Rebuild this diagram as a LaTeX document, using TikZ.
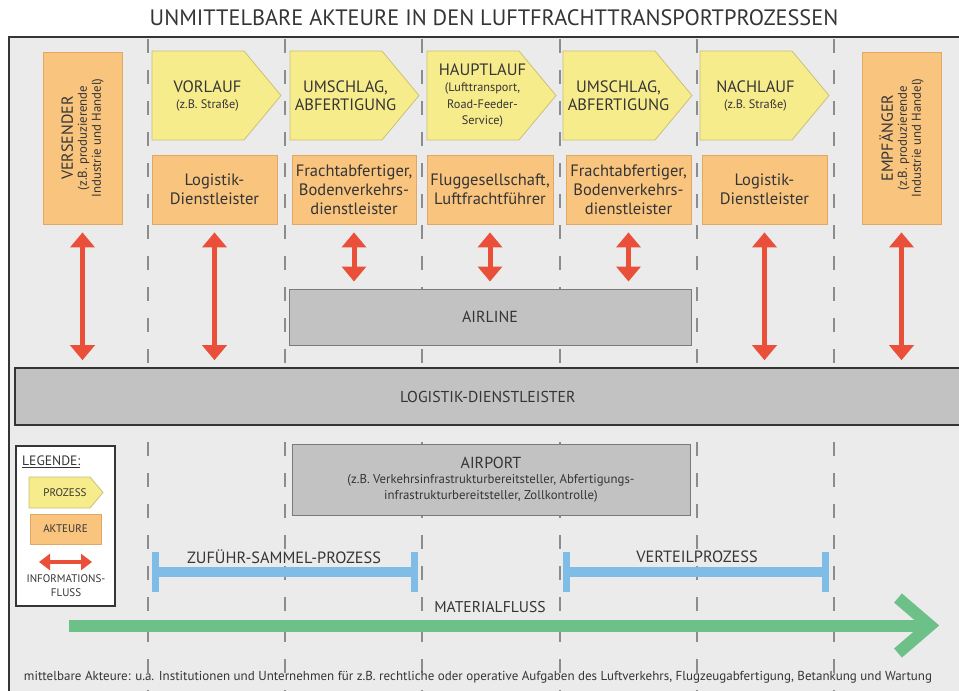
\documentclass[tikz,border=0pt]{standalone}
\usepackage{fontspec}
\setmainfont{PT Sans}
\usetikzlibrary{arrows.meta}
\definecolor{bgc}{HTML}{EBEBEB}
\definecolor{procyellow}{HTML}{F7EC8C}
\definecolor{procborder}{HTML}{C9C07A}
\definecolor{actorange}{HTML}{F8C47E}
\definecolor{actborder}{HTML}{E0A863}
\definecolor{graybox}{HTML}{C2C2C2}
\definecolor{grayborder}{HTML}{7A7A7A}
\definecolor{txt}{HTML}{353535}
\definecolor{infored}{HTML}{EA5039}
\definecolor{barblue}{HTML}{80BDE6}
\definecolor{flowgreen}{HTML}{6CC088}
\definecolor{dashc}{HTML}{8C8C8C}
\newcommand\fsb[2]{\fontsize{#1}{#2}\selectfont}
\newcommand\procshape[5]{%
  \draw[procst] (#2,51) -- ({#3-37},51) -- (#3,95.5) -- ({#3-37},140) -- (#2,140) -- cycle;
  \node[proctext, font=#4] (#1) at ({(#2+#3-18)/2},95.5) {#5};}
\tikzset{
  procst/.style={fill=procyellow, draw=procborder, line width=0.8pt},
  proctext/.style={align=center, text=txt, inner sep=0pt},
  actor/.style={fill=actorange, draw=actborder, line width=0.8pt, inner sep=0pt, align=center, text=txt, font=\fsb{16.5}{19}},
  grayb/.style={fill=graybox, draw=grayborder, line width=1pt, inner sep=0pt, align=center, text=txt},
  info/.style={draw=infored, line width=5pt, {Triangle[width=24pt,length=15pt]}-{Triangle[width=24pt,length=15pt]}},
  sep/.style={draw=dashc, line width=1.1pt, dash pattern=on 14pt off 17pt},
  bluebar/.style={draw=barblue, line width=10pt},
  bluecap/.style={draw=barblue, line width=7pt},
  rottext/.style={rotate=90, align=center, text=txt, inner sep=0pt, font=\fsb{12.8}{14}},
}
\begin{document}
\begin{tikzpicture}[x=1pt,y=-1pt]
\useasboundingbox (0,0) rectangle (959,691);
% background
\fill[white] (0,0) rectangle (959,691);
\fill[bgc] (9,37) rectangle (959,691);
\draw[txt, line width=2pt] (9,691) -- (9,37) -- (959,37);
% title
\node[text=txt, font=\fsb{22.3}{26}, inner sep=0pt] (title) at (494,18) {UNMITTELBARE AKTEURE IN DEN LUFTFRACHTTRANSPORTPROZESSEN};
% separators
\foreach \x in {148,285,422,560,697,834} \draw[sep] (\x,39) -- (\x,691);
% shippers
\node[actor, minimum width=79pt, minimum height=172pt] (vers) at (82.5,138) {};
\node[rottext] (versT) at (vers.center) {{\fsb{16}{14}VERSENDER}\\(z.B. produzierende\\Industrie und Handel)};
\node[actor, minimum width=79pt, minimum height=172pt] (empf) at (901.5,138) {};
\node[rottext] (empfT) at (empf.center) {{\fsb{16}{14}EMPFÄNGER}\\(z.B. produzierende\\Industrie und Handel)};
% processes
\procshape{p1}{152}{281}{\fsb{12.3}{16}}{{\fsb{16.5}{16}VORLAUF}\\(z.B. Straße)}
\procshape{p2}{290}{419}{\fsb{16.5}{18.5}}{UMSCHLAG,\\ABFERTIGUNG}
\procshape{p3}{427}{556}{\fsb{12.3}{16.3}}{{\fsb{16.5}{16}HAUPTLAUF}\\(Lufttransport,\\Road-Feeder-\\Service)}
\procshape{p4}{563}{692}{\fsb{16.5}{18.5}}{UMSCHLAG,\\ABFERTIGUNG}
\procshape{p5}{700}{829}{\fsb{12.3}{16}}{{\fsb{16.5}{16}NACHLAUF}\\(z.B. Straße)}
% actors
\node[actor, minimum width=125pt, minimum height=69pt] (a1) at (214.5,189.5) {Logistik-\\Dienstleister};
\node[actor, minimum width=124pt, minimum height=69pt] (a2) at (354,189.5) {Frachtabfertiger,\\Bodenverkehrs-\\dienstleister};
\node[actor, minimum width=126pt, minimum height=69pt] (a3) at (490,189.5) {Fluggesellschaft,\\Luftfrachtführer};
\node[actor, minimum width=125pt, minimum height=69pt] (a4) at (628.5,189.5) {Frachtabfertiger,\\Bodenverkehrs-\\dienstleister};
\node[actor, minimum width=125pt, minimum height=69pt] (a5) at (764.5,189.5) {Logistik-\\Dienstleister};
% gray boxes
\node[grayb, minimum width=402pt, minimum height=56pt, font=\fsb{16}{18}] (airline) at (490,317) {AIRLINE};
\node[grayb, draw=txt, line width=1.6pt, minimum width=960pt, minimum height=57pt, font=\fsb{15.8}{18}, anchor=west] (ld) at (14,396.5) {\hspace*{-14pt}LOGISTIK-DIENSTLEISTER};
\node[grayb, minimum width=398pt, minimum height=71pt, font=\fsb{12.8}{15.5}] (airport) at (491,479.5) {{\fsb{16}{15}AIRPORT}\\(z.B. Verkehrsinfrastrukturbereitsteller, Abfertigungs-\\infrastrukturbereitsteller, Zollkontrolle)};
% information arrows
\draw[info, shorten <=8pt, shorten >=7pt] (vers.south) -- (vers.south |- ld.north);
\draw[info, shorten <=8pt, shorten >=7pt] (a1.south) -- (a1.south |- ld.north);
\draw[info, shorten <=8pt, shorten >=7pt] (a2.south) -- (a2.south |- airline.north);
\draw[info, shorten <=8pt, shorten >=7pt] (a3.south) -- (a3.south |- airline.north);
\draw[info, shorten <=8pt, shorten >=7pt] (a4.south) -- (a4.south |- airline.north);
\draw[info, shorten <=8pt, shorten >=7pt] (a5.south) -- (a5.south |- ld.north);
\draw[info, shorten <=8pt, shorten >=7pt] (empf.south) -- (empf.south |- ld.north);
% legend
\node[draw=txt, fill=white, line width=1.2pt, minimum width=99pt, minimum height=160pt, inner sep=0pt] (leg) at (65.5,526) {};
\node[anchor=west, text=txt, font=\fsb{13.6}{16}, inner sep=0pt] (legT) at (22,462) {\underline{LEGENDE:}};
\draw[procst] (29,477) -- (90,477) -- (103,492.5) -- (90,508) -- (29,508) -- cycle;
\node[text=txt, font=\fsb{11}{13}, inner sep=0pt] (legP) at (65,493) {PROZESS};
\node[actor, minimum width=71pt, minimum height=30pt, font=\fsb{11}{13}] (legA) at (65.5,529) {AKTEURE};
\coordinate (legL) at (39,562);
\coordinate (legR) at (92,562);
\draw[draw=infored, line width=4pt, {Triangle[width=16pt,length=11pt]}-{Triangle[width=16pt,length=11pt]}] (legL) -- (legR);
\node[align=center, text=txt, font=\fsb{11}{14}, inner sep=0pt] (legI) at (66,586) {INFORMATIONS-\\FLUSS};
% process brackets
\coordinate (z1) at (152,572);
\coordinate (z2) at (418,572);
\draw[bluebar] (z1) -- (z2);
\draw[bluecap] ([xshift=3.5pt,yshift=20pt]z1) -- ([xshift=3.5pt,yshift=-20pt]z1);
\draw[bluecap] ([xshift=-3.5pt,yshift=20pt]z2) -- ([xshift=-3.5pt,yshift=-20pt]z2);
\node[text=txt, font=\fsb{16.3}{18}, inner sep=0pt] (zT) at (284,557) {ZUFÜHR-SAMMEL-PROZESS};
\coordinate (v1) at (563,572);
\coordinate (v2) at (829,572);
\draw[bluebar] (v1) -- (v2);
\draw[bluecap] ([xshift=3.5pt,yshift=20pt]v1) -- ([xshift=3.5pt,yshift=-20pt]v1);
\draw[bluecap] ([xshift=-3.5pt,yshift=20pt]v2) -- ([xshift=-3.5pt,yshift=-20pt]v2);
\node[text=txt, font=\fsb{16.3}{18}, inner sep=0pt] (vT) at (697,557) {VERTEILPROZESS};
% material flow
\coordinate (m1) at (69,625.5);
\coordinate (m2) at (930,625.5);
\draw[draw=flowgreen, line width=12pt] (m1) -- ([xshift=-4pt]m2);
\draw[draw=flowgreen, line width=12pt, miter limit=10] (898,598) -- (m2) -- (898,653);
\node[text=txt, font=\fsb{15.6}{18}, inner sep=0pt] (mT) at (490,607) {MATERIALFLUSS};
% footnote
\node[text=txt, font=\fsb{13}{15}, inner sep=0pt] (foot) at (478,677) {mittelbare Akteure: u.a. Institutionen und Unternehmen für z.B. rechtliche oder operative Aufgaben des Luftverkehrs, Flugzeugabfertigung, Betankung und Wartung};
\end{tikzpicture}
\end{document}
